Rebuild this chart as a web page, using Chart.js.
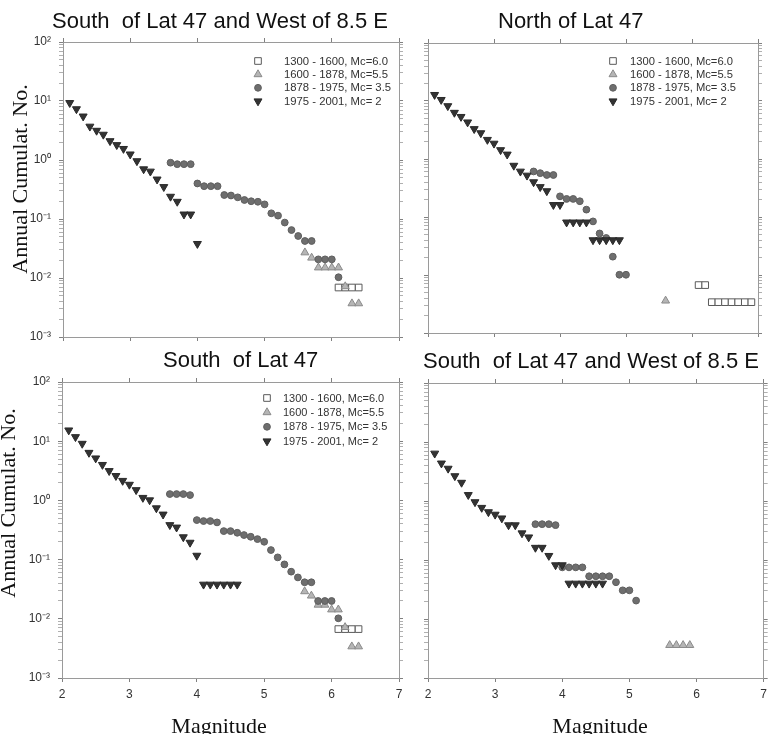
<!DOCTYPE html>
<html lang="en">
<head>
<meta charset="UTF-8">
<title>Annual cumulative number vs magnitude</title>
<script src="https://cdn.jsdelivr.net/npm/chart.js"></script>
<style>
  body { margin: 0; background: #fff; }
  #wrap { position: relative; width: 772px; height: 734px; overflow: hidden; }
  #wrap canvas { position: absolute; left: 0; top: 0; }
</style>
</head>
<body>
<div id="wrap">
  <canvas id="tl" width="772" height="734"></canvas>
  <canvas id="tr" width="772" height="734"></canvas>
  <canvas id="bl" width="772" height="734"></canvas>
  <canvas id="br" width="772" height="734"></canvas>
</div>
<script>
// legend text, one entry per catalogue period
const periodLabels = ['1300 - 1600, Mc=6.0', '1600 - 1878, Mc=5.5', '1878 - 1975, Mc= 3.5', '1975 - 2001, Mc= 2'];

// axis ticks
const magTicks = [2, 3, 4, 5, 6, 7];
const yDecades = [0.001, 0.01, 0.1, 1, 10, 100];
const yTickLabels = ['10\u207B\u00B3', '10\u207B\u00B2', '10\u207B\u00B9', '10\u2070', '10\u00B9', '10\u00B2'];

// top left: South of Lat 47 and West of 8.5 E
const tlSquareMag = [6.1, 6.2, 6.3, 6.4];
const tlSquareVal = [0.0069, 0.0069, 0.0069, 0.0069];
const tlUpMag = [5.6, 5.7, 5.8, 5.9, 6.0, 6.1, 6.2, 6.3, 6.4];
const tlUpVal = [0.027, 0.022, 0.015, 0.015, 0.015, 0.015, 0.0072, 0.0037, 0.0037];
const tlCircleMag = [3.6, 3.7, 3.8, 3.9, 4.0, 4.1, 4.2, 4.3, 4.4, 4.5, 4.6, 4.7, 4.8, 4.9, 5.0, 5.1, 5.2, 5.3, 5.4, 5.5, 5.6, 5.7, 5.8, 5.9, 6.0, 6.1];
const tlCircleVal = [0.90, 0.85, 0.85, 0.85, 0.40, 0.36, 0.36, 0.36, 0.255, 0.25, 0.233, 0.21, 0.20, 0.196, 0.177, 0.125, 0.114, 0.087, 0.065, 0.0515, 0.0424, 0.0424, 0.0207, 0.0207, 0.0207, 0.0103];
const tlDownMag = [2.1, 2.2, 2.3, 2.4, 2.5, 2.6, 2.7, 2.8, 2.9, 3.0, 3.1, 3.2, 3.3, 3.4, 3.5, 3.6, 3.7, 3.8, 3.9, 4.0];
const tlDownVal = [9.3, 7.3, 5.5, 3.7, 3.15, 2.7, 2.1, 1.8, 1.55, 1.25, 0.96, 0.70, 0.64, 0.47, 0.35, 0.24, 0.197, 0.12, 0.12, 0.038];

// top right: North of Lat 47
const trSquareMag = [6.1, 6.2, 6.3, 6.4, 6.5, 6.6, 6.7, 6.8, 6.9];
const trSquareVal = [0.0067, 0.0067, 0.0034, 0.0034, 0.0034, 0.0034, 0.0034, 0.0034, 0.0034];
const trUpMag = [5.6];
const trUpVal = [0.0036];
const trCircleMag = [3.6, 3.7, 3.8, 3.9, 4.0, 4.1, 4.2, 4.3, 4.4, 4.5, 4.6, 4.7, 4.8, 4.9, 5.0];
const trCircleVal = [0.61, 0.57, 0.53, 0.53, 0.227, 0.205, 0.205, 0.187, 0.134, 0.084, 0.052, 0.0435, 0.0207, 0.0101, 0.0101];
const trDownMag = [2.1, 2.2, 2.3, 2.4, 2.5, 2.6, 2.7, 2.8, 2.9, 3.0, 3.1, 3.2, 3.3, 3.4, 3.5, 3.6, 3.7, 3.8, 3.9, 4.0, 4.1, 4.2, 4.3, 4.4, 4.5, 4.6, 4.7, 4.8, 4.9];
const trDownVal = [12.8, 10.5, 8.2, 6.3, 5.35, 4.3, 3.3, 2.8, 2.15, 1.85, 1.43, 1.2, 0.77, 0.61, 0.52, 0.40, 0.33, 0.28, 0.162, 0.162, 0.081, 0.081, 0.081, 0.081, 0.040, 0.040, 0.040, 0.040, 0.040];

// bottom left: South of Lat 47
const blSquareMag = [6.1, 6.2, 6.3, 6.4];
const blSquareVal = [0.0067, 0.0067, 0.0067, 0.0067];
const blUpMag = [5.6, 5.7, 5.8, 5.9, 6.0, 6.1, 6.2, 6.3, 6.4];
const blUpVal = [0.029, 0.0245, 0.0172, 0.0172, 0.0143, 0.0143, 0.0072, 0.0034, 0.0034];
const blCircleMag = [3.6, 3.7, 3.8, 3.9, 4.0, 4.1, 4.2, 4.3, 4.4, 4.5, 4.6, 4.7, 4.8, 4.9, 5.0, 5.1, 5.2, 5.3, 5.4, 5.5, 5.6, 5.7, 5.8, 5.9, 6.0, 6.1];
const blCircleVal = [1.28, 1.28, 1.28, 1.23, 0.465, 0.448, 0.448, 0.425, 0.303, 0.303, 0.284, 0.26, 0.243, 0.222, 0.20, 0.145, 0.109, 0.083, 0.0625, 0.050, 0.0414, 0.0414, 0.020, 0.020, 0.020, 0.0102];
const blDownMag = [2.1, 2.2, 2.3, 2.4, 2.5, 2.6, 2.7, 2.8, 2.9, 3.0, 3.1, 3.2, 3.3, 3.4, 3.5, 3.6, 3.7, 3.8, 3.9, 4.0, 4.1, 4.2, 4.3, 4.4, 4.5, 4.6];
const blDownVal = [15.3, 11.8, 9.1, 6.4, 5.15, 4.0, 3.15, 2.6, 2.15, 1.85, 1.5, 1.11, 1.01, 0.74, 0.58, 0.385, 0.35, 0.24, 0.194, 0.117, 0.038, 0.038, 0.038, 0.038, 0.038, 0.038];

// bottom right: South of Lat 47 and West of 8.5 E
const brUpMag = [5.6, 5.7, 5.8, 5.9];
const brUpVal = [0.0036, 0.0036, 0.0036, 0.0036];
const brCircleMag = [3.6, 3.7, 3.8, 3.9, 4.0, 4.1, 4.2, 4.3, 4.4, 4.5, 4.6, 4.7, 4.8, 4.9, 5.0, 5.1];
const brCircleVal = [0.405, 0.405, 0.405, 0.39, 0.075, 0.075, 0.075, 0.075, 0.053, 0.053, 0.053, 0.053, 0.042, 0.0306, 0.0306, 0.0205];
const brDownMag = [2.1, 2.2, 2.3, 2.4, 2.5, 2.6, 2.7, 2.8, 2.9, 3.0, 3.1, 3.2, 3.3, 3.4, 3.5, 3.6, 3.7, 3.8, 3.9, 4.0, 4.1, 4.2, 4.3, 4.4, 4.5, 4.6];
const brDownVal = [6.4, 4.35, 3.55, 2.65, 2.05, 1.27, 0.96, 0.77, 0.65, 0.59, 0.51, 0.39, 0.39, 0.285, 0.243, 0.162, 0.162, 0.118, 0.082, 0.082, 0.040, 0.040, 0.040, 0.040, 0.040, 0.040];

const W = 772, H = 734;
const Y_AXIS_W = 50, X_AXIS_H = 30, EDGE = 6;
const AXIS = '#9a9a9a';
const SANS = '"Liberation Sans", Arial, sans-serif';
const SERIF = '"Liberation Serif", "Times New Roman", serif';

// marker look for each period (same order as periodLabels)
const markers = [
  { pointStyle: 'rect', pointRotation: 0, pointRadius: 4.7, pointBackgroundColor: '#ffffff', pointBorderColor: '#5a5a5a', order: 4 },
  { pointStyle: 'triangle', pointRotation: 0, pointRadius: 4.6, pointBackgroundColor: '#b5b5b5', pointBorderColor: '#8a8a8a', order: 3 },
  { pointStyle: 'circle', pointRotation: 0, pointRadius: 3.4, pointBackgroundColor: '#6e6e6e', pointBorderColor: '#5e5e5e', order: 2 },
  { pointStyle: 'triangle', pointRotation: 180, pointRadius: 4.6, pointBackgroundColor: '#333333', pointBorderColor: '#2a2a2a', order: 1 }
];

function series(mag, val, k) {
  return Object.assign({
    label: periodLabels[k],
    data: mag.map((m, i) => ({ x: m, y: val[i] })),
    pointBorderWidth: 1
  }, markers[k]);
}

function yTicks() {
  const out = [];
  yDecades.forEach((d, i) => {
    out.push({ value: d, major: true });
    if (i < yDecades.length - 1) {
      for (let k = 2; k <= 9; k++) out.push({ value: d * k, major: false });
    }
  });
  return out;
}

// titles and axis titles drawn on the canvas
function textLayer(items) {
  return {
    id: 'textLayer',
    afterDraw(chart) {
      const ctx = chart.ctx;
      items.forEach(t => {
        ctx.save();
        ctx.font = t.font;
        ctx.fillStyle = '#111';
        ctx.textAlign = t.align || 'left';
        ctx.textBaseline = 'alphabetic';
        ctx.translate(t.x, t.y);
        if (t.vertical) ctx.rotate(-Math.PI / 2);
        ctx.fillText(t.text, 0, 0);
        ctx.restore();
      });
    }
  };
}

// legend inside the plot box, top right
function boxLegend(pos) {
  return {
    id: 'boxLegend',
    afterDatasetsDraw(chart) {
      if (!pos) return;
      const { ctx, chartArea } = chart;
      ctx.save();
      ctx.font = pos.size + 'px ' + SANS;
      ctx.textBaseline = 'middle';
      chart.data.datasets.forEach((ds, i) => {
        const y = chartArea.top + pos.top + i * pos.gap;
        const x = chartArea.right - pos.marker;
        ctx.fillStyle = ds.pointBackgroundColor;
        ctx.strokeStyle = ds.pointBorderColor;
        ctx.lineWidth = 1;
        Chart.helpers.drawPoint(ctx, {
          pointStyle: ds.pointStyle, rotation: ds.pointRotation,
          radius: ds.pointRadius, borderWidth: 1
        }, x, y);
        ctx.fillStyle = '#333';
        ctx.fillText(ds.label, chartArea.right - pos.text, y + 0.5);
      });
      ctx.restore();
    }
  };
}

function tickColor(c) {
  return c.tick && c.tick.major === false ? '#b0b0b0' : '#808080';
}

function scalesFor(showX, showY) {
  const grid = { drawOnChartArea: false, drawTicks: true, tickLength: 4, color: AXIS, tickColor: tickColor };
  const border = { display: true, color: AXIS, width: 1 };
  const font = { family: SANS, size: 12 };
  const xBase = {
    type: 'linear', min: 2, max: 7, grid, border,
    afterBuildTicks: s => { s.ticks = magTicks.map(v => ({ value: v, major: true })); }
  };
  const yBase = {
    type: 'logarithmic', min: 0.001, max: 100, grid, border,
    afterBuildTicks: s => { s.ticks = yTicks(); }
  };
  return {
    x: Object.assign({}, xBase, {
      position: 'bottom',
      ticks: { display: showX, padding: 5, color: '#333', font, autoSkip: false, maxRotation: 0, callback: v => String(v) },
      afterFit: s => { s.height = X_AXIS_H; }
    }),
    xTop: Object.assign({}, xBase, {
      position: 'top', ticks: { display: false },
      afterFit: s => { s.height = EDGE; }
    }),
    y: Object.assign({}, yBase, {
      position: 'left',
      ticks: {
        display: showY, padding: 8, color: '#333', font, autoSkip: false,
        callback: v => { const i = yDecades.indexOf(v); return i >= 0 ? yTickLabels[i] : ''; }
      },
      afterFit: s => { s.width = Y_AXIS_W; }
    }),
    yRight: Object.assign({}, yBase, {
      position: 'right', ticks: { display: false },
      afterFit: s => { s.width = EDGE; }
    })
  };
}

function buildPanel(id, area, datasets, showX, showY, texts, legendPos) {
  new Chart(document.getElementById(id), {
    type: 'scatter',
    data: { datasets },
    options: {
      responsive: false,
      animation: false,
      devicePixelRatio: 1,
      events: [],
      layout: {
        padding: {
          left: area.l - Y_AXIS_W,
          top: area.t - EDGE,
          right: W - area.r - EDGE,
          bottom: H - area.b - X_AXIS_H
        }
      },
      plugins: { legend: { display: false }, title: { display: false }, tooltip: { enabled: false } },
      scales: scalesFor(showX, showY)
    },
    plugins: [textLayer(texts), boxLegend(legendPos)]
  });
}

const titleFont = '22px ' + SANS;
const axisFont = '22px ' + SERIF;

buildPanel('tl', { l: 63, t: 42, r: 399, b: 337 }, [
  series(tlSquareMag, tlSquareVal, 0),
  series(tlUpMag, tlUpVal, 1),
  series(tlCircleMag, tlCircleVal, 2),
  series(tlDownMag, tlDownVal, 3)
], false, true, [
  { text: 'South  of Lat 47 and West of 8.5 E', x: 52, y: 28, font: titleFont },
  { text: 'Annual Cumulat. No.', x: 27, y: 179, font: axisFont, align: 'center', vertical: true }
], { marker: 141, text: 115, top: 19, gap: 13.4, size: 11.3 });

buildPanel('tr', { l: 428, t: 43, r: 758, b: 333 }, [
  series(trSquareMag, trSquareVal, 0),
  series(trUpMag, trUpVal, 1),
  series(trCircleMag, trCircleVal, 2),
  series(trDownMag, trDownVal, 3)
], false, false, [
  { text: 'North of Lat 47', x: 498, y: 28, font: titleFont }
], { marker: 145, text: 128, top: 18, gap: 13.4, size: 11.2 });

buildPanel('bl', { l: 62, t: 382, r: 399, b: 678 }, [
  series(blSquareMag, blSquareVal, 0),
  series(blUpMag, blUpVal, 1),
  series(blCircleMag, blCircleVal, 2),
  series(blDownMag, blDownVal, 3)
], true, true, [
  { text: 'South  of Lat 47', x: 163, y: 367, font: titleFont },
  { text: 'Annual Cumulat. No.', x: 15, y: 503, font: axisFont, align: 'center', vertical: true },
  { text: 'Magnitude', x: 219, y: 733, font: axisFont, align: 'center' }
], { marker: 132, text: 116, top: 16, gap: 14.4, size: 11 });

buildPanel('br', { l: 428, t: 383, r: 764, b: 678 }, [
  series(brUpMag, brUpVal, 1),
  series(brCircleMag, brCircleVal, 2),
  series(brDownMag, brDownVal, 3)
], true, false, [
  { text: 'South  of Lat 47 and West of 8.5 E', x: 423, y: 368, font: titleFont },
  { text: 'Magnitude', x: 600, y: 733, font: axisFont, align: 'center' }
], null);
</script>
</body>
</html>
